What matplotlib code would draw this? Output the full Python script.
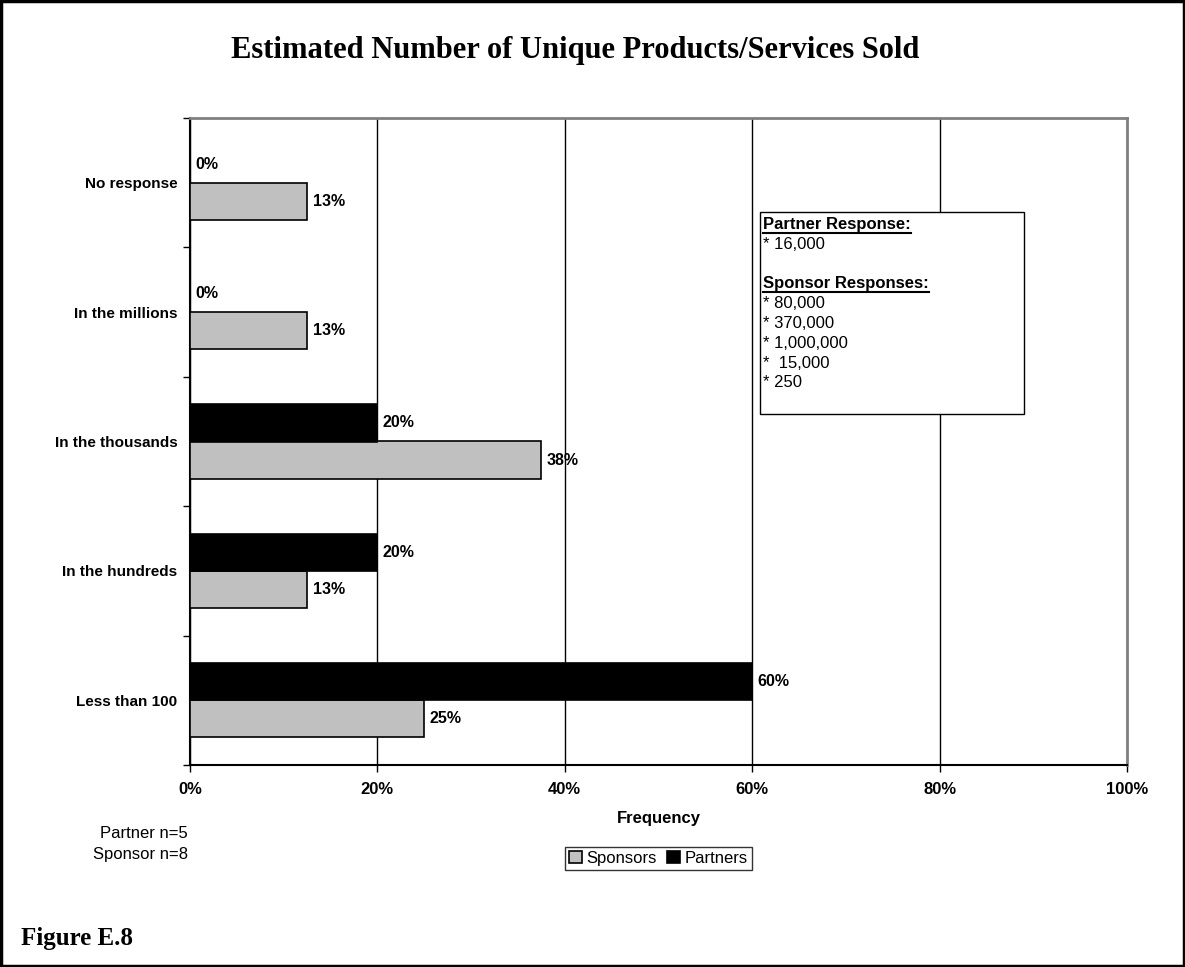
import numpy as np
import matplotlib
matplotlib.use('Agg')
from matplotlib import pyplot as plt
from matplotlib.patches import Rectangle

# data (bottom to top)
categories = ['Less than 100', 'In the hundreds', 'In the thousands', 'In the millions', 'No response']
sponsors = [25.0, 12.5, 37.5, 12.5, 12.5]
partners = [60.0, 20.0, 20.0, 0.0, 0.0]
xticks = [0, 20, 40, 60, 80, 100]
box_lines = ['* 16,000', '* 80,000', '* 370,000', '* 1,000,000', '*  15,000', '* 250']

plt.rcParams['font.family'] = ['Liberation Sans', 'DejaVu Sans']

W, H = 1185, 967
fig = plt.figure(figsize=(W/100, H/100), dpi=100)
ax = fig.add_axes([190/W, 202/H, (1127-190)/W, (765-118)/H])

y = np.arange(len(categories))
h = 0.286
ax.barh(y - h/2, sponsors, height=h, color='#c0c0c0', edgecolor='black', linewidth=1.2, label='Sponsors', zorder=3)
ax.barh(y + h/2, partners, height=h, color='black', edgecolor='black', linewidth=1.2, label='Partners', zorder=3)

# value labels, 5 px right of bar end
off = 5.5 / 937 * 100
for yi, s, p in zip(y, sponsors, partners):
    ax.text(s + off, yi - h/2, '%d%%' % int(s + 0.5), va='center', ha='left', fontsize=11.5, fontweight='bold')
    ax.text(p + off, yi + h/2, '%d%%' % int(p + 0.5), va='center', ha='left', fontsize=11.5, fontweight='bold')

ax.set_xlim(0, 100)
ax.set_ylim(-0.5, len(categories) - 0.5)
ax.set_xticks(xticks)
ax.set_xticklabels(['%d%%' % v for v in xticks], fontsize=12, fontweight='bold')
ax.set_yticks(y)
ax.set_yticklabels(categories, fontsize=11, fontweight='bold')
ax.set_yticks(np.arange(-0.5, len(categories), 1.0), minor=True)
ax.tick_params(axis='y', which='major', length=0, pad=9)
ax.tick_params(axis='y', which='minor', length=5, width=1, direction='out')
ax.tick_params(axis='x', length=5, width=1, direction='out', pad=7)
ax.xaxis.grid(True, color='black', linewidth=1)
ax.set_axisbelow(True)
for side in ['top', 'right']:
    ax.spines[side].set_color('#808080')
    ax.spines[side].set_linewidth(2)
for side in ['left', 'bottom']:
    ax.spines[side].set_color('black')
    ax.spines[side].set_linewidth(1.5)

ax.set_xlabel('Frequency', fontsize=12, fontweight='bold', labelpad=10)

leg = ax.legend(loc='upper center', bbox_to_anchor=(0.5, (765-847)/647), ncol=2, frameon=True,
                fancybox=False, edgecolor='black', fontsize=12, handlelength=0.75, handleheight=0.75,
                handletextpad=0.3, columnspacing=0.6, borderpad=0.25, borderaxespad=0)
leg.get_frame().set_linewidth(1)

# title and notes
fig.text(575/W, 1 - 58/H, 'Estimated Number of Unique Products/Services Sold',
         family=['Liberation Serif'], fontsize=22, fontweight='bold', ha='center', va='baseline')
fig.text(188/W, 1 - 833/H, 'Partner n=5', fontsize=12, ha='right', va='center')
fig.text(188/W, 1 - 854/H, 'Sponsor n=8', fontsize=12, ha='right', va='center')
fig.text(21/W, 1 - 945/H, 'Figure E.8', family=['Liberation Serif'], fontsize=18,
         fontweight='bold', ha='left', va='baseline')

# annotation box
bx0, by0, bx1, by1 = 760, 212, 1024, 414
fig.patches.append(Rectangle((bx0/W, 1 - by1/H), (bx1-bx0)/W, (by1-by0)/H,
                             transform=fig.transFigure, fill=True, facecolor='white',
                             edgecolor='black', linewidth=1, zorder=5))
lines = [('Partner Response:', True), (box_lines[0], False), ('', False),
         ('Sponsor Responses:', True)] + [(t, False) for t in box_lines[1:]]
heads = []
for i, (txt, bold) in enumerate(lines):
    yy = 1 - (229 + i*19.8)/H
    t = fig.text(763/W, yy, txt, fontsize=12, fontweight='bold' if bold else 'normal',
                 ha='left', va='baseline', zorder=6)
    if bold:
        heads.append((t, yy))

fig.canvas.draw()
r = fig.canvas.get_renderer()
for t, yy in heads:
    bb = t.get_window_extent(r).transformed(fig.transFigure.inverted())
    yl = yy - 3.5/H
    fig.add_artist(plt.Line2D([bb.x0, bb.x1], [yl, yl], transform=fig.transFigure,
                              color='black', linewidth=1.5, zorder=7))

# outer frame
fig.patches.append(Rectangle((0.001, 0.001), 0.998, 0.998, transform=fig.transFigure,
                             fill=False, edgecolor='black', linewidth=2.5, zorder=10))

fig.savefig('out.png', dpi=100)
